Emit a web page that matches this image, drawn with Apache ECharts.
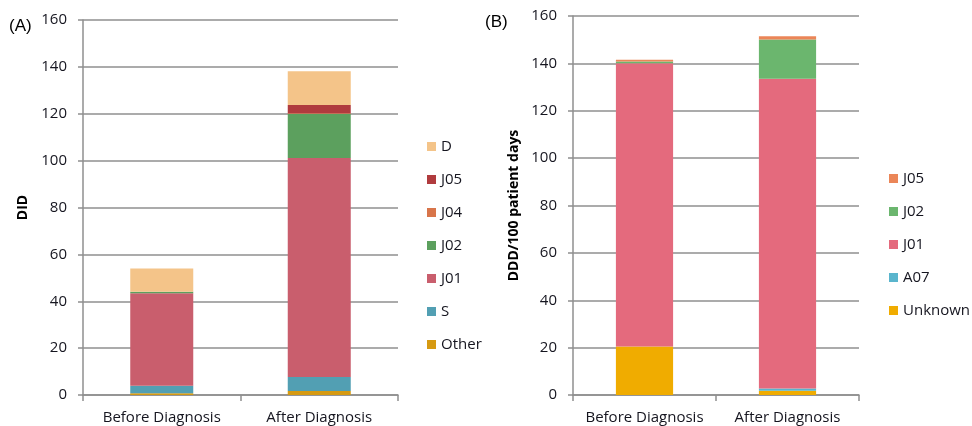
<!DOCTYPE html>
<html>
<head>
<meta charset="utf-8">
<script src="https://cdn.jsdelivr.net/npm/echarts@6/dist/echarts.min.js"></script>
<style>html,body{margin:0;padding:0;background:#fff}#c{width:972px;height:426px}</style>
</head>
<body>
<div id="c"></div>
<script>
var categories = ['Before Diagnosis', 'After Diagnosis'];
var yTicks = [0, 20, 40, 60, 80, 100, 120, 140, 160];

// Panel A (DID)
var aOther = [0.8, 1.7];
var aS = [3.2, 6.0];
var aJ01 = [39.4, 93.4];
var aJ02 = [0.7, 18.8];
var aJ04 = [0.0, 0.3];
var aJ05 = [0.0, 3.5];
var aD = [9.9, 14.4];

// Panel B (DDD/100 patient days)
var bUnknown = [20.5, 1.8];
var bA07 = [0.0, 0.9];
var bJ01 = [119.6, 130.8];
var bJ02 = [0.7, 16.6];
var bJ05 = [0.7, 1.4];

var font = '"Open Sans", "Liberation Sans", sans-serif';
var txt = '#15151f';
var gridCol = '#8f8f8f';

function yAxis(gi, name, gap) {
  return {
    type: 'value', gridIndex: gi, min: yTicks[0], max: yTicks[yTicks.length - 1], interval: 20,
    name: name, nameLocation: 'middle', nameGap: gap,
    nameTextStyle: { fontFamily: font, fontSize: 14, fontWeight: 'bold', color: '#000' },
    axisLine: { show: true, lineStyle: { color: gridCol, width: 1.5 } },
    axisTick: { show: true, length: 5, lineStyle: { color: gridCol, width: 1.5 } },
    axisLabel: { fontFamily: font, fontSize: 15, color: txt, margin: 16 },
    splitLine: { lineStyle: { color: gridCol, width: 1.5 } }
  };
}
function xAxis(gi) {
  return {
    type: 'category', gridIndex: gi, data: categories,
    axisLine: { lineStyle: { color: gridCol, width: 1.5 } },
    axisTick: { show: true, length: 6, lineStyle: { color: gridCol, width: 1.5 } },
    axisLabel: { fontFamily: font, fontSize: 15, color: txt, margin: 15, interval: 0 }
  };
}
function bar(name, data, color, gi, stack) {
  return {
    name: name, type: 'bar', stack: stack, data: data,
    xAxisIndex: gi, yAxisIndex: gi, barWidth: '40%',
    itemStyle: { color: color }, emphasis: { disabled: true }
  };
}

var chart = echarts.init(document.getElementById('c'), null, { renderer: 'canvas' });
chart.setOption({
  animation: false,
  grid: [
    { left: 83, top: 20, width: 315, height: 375 },
    { left: 573, top: 16, width: 286, height: 379 }
  ],
  xAxis: [xAxis(0), xAxis(1)],
  yAxis: [yAxis(0, 'DID', 53), yAxis(1, 'DDD/100 patient days', 52)],
  legend: [
    {
      orient: 'vertical', left: 422, top: 134, itemWidth: 9, itemHeight: 9, itemGap: 18,
      icon: 'rect', textStyle: { fontFamily: font, fontSize: 15, color: txt },
      data: ['D', 'J05', 'J04', 'J02', 'J01', 'S', 'Other']
    },
    {
      orient: 'vertical', left: 884, top: 166, itemWidth: 9, itemHeight: 9, itemGap: 18,
      icon: 'rect', textStyle: { fontFamily: font, fontSize: 15, color: txt },
      data: ['J05 ', 'J02 ', 'J01 ', 'A07', 'Unknown']
    }
  ],
  graphic: [
    { type: 'text', left: 9, top: 18, style: { text: '(A)', font: '17px "Liberation Sans", Arial, sans-serif', fill: '#000' } },
    { type: 'text', left: 485, top: 14, style: { text: '(B)', font: '17px "Liberation Sans", Arial, sans-serif', fill: '#000' } }
  ],
  series: [
    bar('Other', aOther, '#D69A12', 0, 'a'),
    bar('S', aS, '#529FB3', 0, 'a'),
    bar('J01', aJ01, '#C95E6D', 0, 'a'),
    bar('J02', aJ02, '#5CA05E', 0, 'a'),
    bar('J04', aJ04, '#D8754A', 0, 'a'),
    bar('J05', aJ05, '#B03B3E', 0, 'a'),
    bar('D', aD, '#F4C489', 0, 'a'),
    bar('Unknown', bUnknown, '#F0AC00', 1, 'b'),
    bar('A07', bA07, '#5AB5CD', 1, 'b'),
    bar('J01 ', bJ01, '#E46A7D', 1, 'b'),
    bar('J02 ', bJ02, '#6BB66E', 1, 'b'),
    bar('J05 ', bJ05, '#EB8658', 1, 'b')
  ]
});
</script>
</body>
</html>
